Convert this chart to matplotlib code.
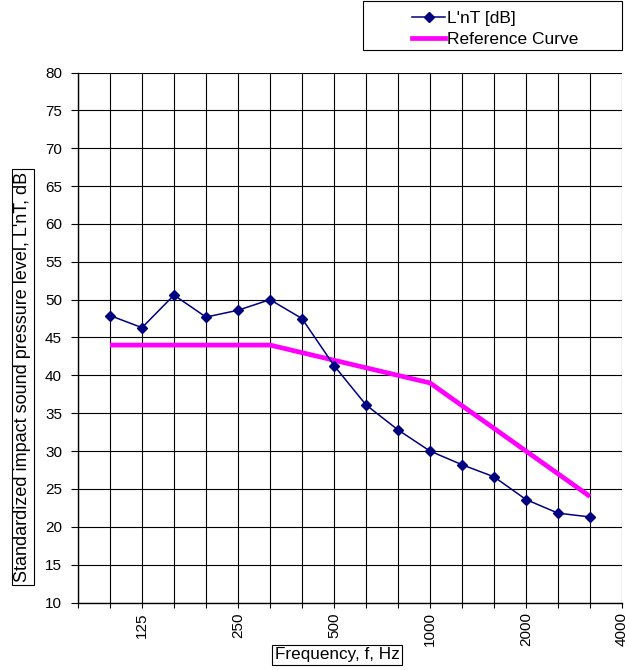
import matplotlib
matplotlib.use("Agg")
import matplotlib.pyplot as plt
from matplotlib.lines import Line2D
from matplotlib.patches import Rectangle

# One-third octave bands (Hz) and measured / reference levels (dB)
bands = [100, 125, 160, 200, 250, 315, 400, 500, 630, 800, 1000, 1250, 1600, 2000, 2500, 3150]
lnt_db = [47.9, 46.3, 50.6, 47.7, 48.6, 50.0, 47.5, 41.3, 36.1, 32.8, 30.0, 28.2, 26.6, 23.6, 21.8, 21.3]
reference_db = [44, 44, 44, 44, 44, 44, 43, 42, 41, 40, 39, 36, 33, 30, 27, 24]

# Category axis runs from 80 Hz to 4000 Hz
axis_bands = [80] + bands + [4000]
tick_labels = ["125", "250", "500", "1000", "2000", "4000"]
y_ticks = list(range(10, 81, 5))

plt.rcParams["font.family"] = ["Liberation Sans", "DejaVu Sans"]

fig = plt.figure(figsize=(6.25, 6.7), dpi=100)
W, H = 625, 670
ax = fig.add_axes([78 / W, 1 - 602.5 / H, (622 - 78) / W, (602.5 - 72.5) / H])

pos = {b: i for i, b in enumerate(axis_bands)}
x = [pos[b] for b in bands]

ax.plot(x, lnt_db, color="#000080", lw=1.1, marker="D", ms=5.5,
        markeredgecolor="#000080", markerfacecolor="#000080", zorder=4, clip_on=False)
ax.plot(x, reference_db, color="#FF00FF", lw=3.4, solid_capstyle="butt", zorder=3)

ax.set_xlim(0, len(axis_bands) - 1)
ax.set_ylim(10, 80)
ax.set_yticks(y_ticks)
ax.set_yticklabels([str(v) for v in y_ticks], fontsize=11)

ax.set_xticks(range(len(axis_bands)))
ax.set_xticklabels([str(b) if str(b) in tick_labels else "" for b in axis_bands],
                   rotation=90, fontsize=11)
ax.tick_params(axis="both", direction="out", width=0.8, color="black")
ax.tick_params(axis="y", length=5, pad=6.5)
ax.tick_params(axis="x", length=3.5, pad=3.5)

ax.grid(True, color="black", lw=0.8)
ax.set_axisbelow(True)
for side in ["top", "right"]:
    ax.spines[side].set_visible(False)
for side in ["left", "bottom"]:
    ax.spines[side].set_linewidth(1.0)

# Boxed axis titles
box = dict(boxstyle="square,pad=0.15", facecolor="white", edgecolor="black", lw=0.8)
fig.text(23 / W, 1 - 377 / H, "Standardized impact sound pressure level, L'nT, dB",
         rotation=90, ha="center", va="center", fontsize=13, bbox=box)
fig.text(337 / W, 1 - 655 / H, "Frequency, f, Hz", ha="center", va="center",
         fontsize=12.3, bbox=box)

# Legend in a framed box at the top right
fig.patches.append(Rectangle((363 / W, 1 - 50 / H), (622 - 363) / W, 49 / H,
                             transform=fig.transFigure, facecolor="white",
                             edgecolor="black", lw=0.8))
handles = [
    Line2D([], [], color="#000080", lw=1.1, marker="D", ms=5.5),
    Line2D([], [], color="#FF00FF", lw=3.4),
]
fig.legend(handles, ["L'nT [dB]", "Reference Curve"], loc="upper left",
           bbox_to_anchor=(400 / W, 1 + 1 / H), frameon=False, fontsize=12.5,
           handlelength=1.9, handletextpad=0.1, labelspacing=0.3, borderpad=0.2)

fig.savefig("out.png", dpi=100)
